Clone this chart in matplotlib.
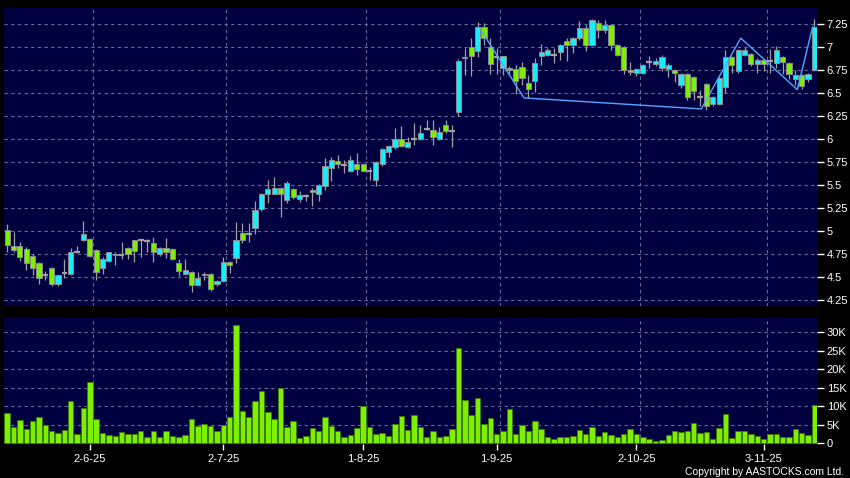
import matplotlib
matplotlib.use("Agg")
import matplotlib.pyplot as plt
import numpy as np

# daily OHLC (one entry per trading day)
opens = [5.01, 4.84, 4.84, 4.81, 4.73, 4.65, 4.53, 4.60, 4.43, 4.55,
         4.54, 4.78, 4.90, 4.92, 4.80, 4.60, 4.68, 4.74, 4.74, 4.82,
         4.90, 4.90, 4.89, 4.87, 4.75, 4.82, 4.81, 4.66, 4.54, 4.56,
         4.42, 4.53, 4.54, 4.43, 4.46, 4.67, 4.71, 4.98, 4.97, 5.04,
         5.24, 5.41, 5.41, 5.47, 5.34, 5.46, 5.35, 5.38, 5.43, 5.41,
         5.49, 5.69, 5.76, 5.72, 5.66, 5.73, 5.73, 5.66, 5.56, 5.73,
         5.86, 5.92, 6.00, 5.92, 6.00, 6.00, 6.11, 6.10, 6.00, 6.16,
         6.09, 6.30, 6.88, 7.00, 6.96, 7.22, 7.00, 6.89, 6.77, 6.75,
         6.76, 6.79, 6.61, 6.63, 6.90, 6.92, 6.92, 6.95, 7.07, 7.02,
         7.10, 7.21, 7.03, 7.26, 7.19, 7.24, 7.03, 7.00, 6.75, 6.72,
         6.72, 6.84, 6.82, 6.77, 6.76, 6.75, 6.59, 6.71, 6.68, 6.46,
         6.60, 6.38, 6.38, 6.57, 6.89, 6.74, 6.92, 6.93, 6.82, 6.86,
         6.85, 6.83, 6.89, 6.83, 6.66, 6.70, 6.66, 6.75]
highs = [5.08, 4.99, 4.88, 4.83, 4.75, 4.67, 4.57, 4.61, 4.53, 4.70,
         4.82, 4.84, 5.11, 4.93, 4.81, 4.72, 4.78, 4.78, 4.88, 4.83,
         4.91, 4.91, 4.92, 4.94, 4.83, 4.93, 4.82, 4.70, 4.70, 4.57,
         4.56, 4.56, 4.55, 4.47, 4.72, 4.68, 5.10, 5.09, 5.09, 5.33,
         5.42, 5.56, 5.59, 5.48, 5.55, 5.47, 5.44, 5.41, 5.47, 5.51,
         5.80, 5.81, 5.83, 5.77, 5.82, 5.85, 5.74, 5.70, 5.76, 5.91,
         5.94, 6.12, 6.14, 6.02, 6.18, 6.16, 6.21, 6.21, 6.13, 6.21,
         6.16, 6.87, 6.99, 7.10, 7.27, 7.26, 7.10, 6.99, 6.91, 6.80,
         6.81, 6.84, 6.70, 6.88, 7.04, 6.99, 6.99, 7.04, 7.10, 7.11,
         7.29, 7.24, 7.31, 7.30, 7.30, 7.25, 7.04, 7.01, 6.84, 6.77,
         6.82, 6.90, 6.88, 6.92, 6.83, 6.76, 6.72, 6.72, 6.69, 6.54,
         6.61, 6.47, 6.68, 6.97, 6.90, 6.98, 7.00, 6.94, 6.88, 6.87,
         6.98, 7.01, 6.90, 6.84, 6.75, 6.71, 6.72, 7.31]
lows = [4.78, 4.78, 4.68, 4.58, 4.52, 4.43, 4.47, 4.40, 4.41, 4.49,
        4.52, 4.76, 4.89, 4.72, 4.47, 4.54, 4.67, 4.63, 4.70, 4.70,
        4.67, 4.72, 4.78, 4.67, 4.73, 4.71, 4.69, 4.51, 4.52, 4.34,
        4.41, 4.47, 4.35, 4.41, 4.45, 4.55, 4.66, 4.87, 4.88, 4.97,
        5.22, 5.31, 5.40, 5.16, 5.31, 5.35, 5.32, 5.33, 5.28, 5.33,
        5.45, 5.55, 5.69, 5.63, 5.64, 5.61, 5.65, 5.56, 5.49, 5.71,
        5.81, 5.89, 5.92, 5.91, 5.94, 5.99, 6.10, 5.94, 5.99, 6.07,
        5.92, 6.25, 6.70, 6.69, 6.89, 7.03, 6.71, 6.71, 6.70, 6.71,
        6.49, 6.59, 6.45, 6.51, 6.81, 6.90, 6.83, 6.86, 6.85, 6.94,
        7.08, 6.96, 7.02, 7.10, 7.15, 6.97, 6.90, 6.71, 6.70, 6.69,
        6.71, 6.77, 6.80, 6.74, 6.68, 6.62, 6.56, 6.43, 6.43, 6.36,
        6.32, 6.36, 6.37, 6.50, 6.72, 6.72, 6.90, 6.80, 6.72, 6.74,
        6.72, 6.77, 6.71, 6.65, 6.59, 6.55, 6.62, 6.74]
closes = [4.85, 4.80, 4.72, 4.66, 4.60, 4.49, 4.53, 4.43, 4.53, 4.55,
          4.78, 4.78, 4.97, 4.73, 4.56, 4.70, 4.77, 4.75, 4.74, 4.75,
          4.79, 4.90, 4.89, 4.78, 4.82, 4.78, 4.70, 4.57, 4.58, 4.42,
          4.49, 4.54, 4.37, 4.46, 4.67, 4.63, 4.91, 4.90, 4.97, 5.23,
          5.40, 5.46, 5.47, 5.40, 5.52, 5.37, 5.39, 5.38, 5.45, 5.50,
          5.71, 5.77, 5.73, 5.72, 5.78, 5.68, 5.66, 5.66, 5.75, 5.89,
          5.93, 6.00, 5.93, 5.97, 6.00, 6.07, 6.11, 6.03, 6.08, 6.09,
          6.09, 6.85, 6.89, 6.90, 7.22, 7.10, 6.82, 6.89, 6.90, 6.78,
          6.63, 6.67, 6.55, 6.83, 6.95, 6.97, 6.92, 7.03, 7.02, 7.10,
          7.21, 7.03, 7.30, 7.19, 7.24, 7.03, 6.92, 6.75, 6.73, 6.76,
          6.81, 6.84, 6.85, 6.89, 6.81, 6.72, 6.71, 6.46, 6.53, 6.46,
          6.36, 6.46, 6.67, 6.89, 6.81, 6.97, 6.97, 6.82, 6.86, 6.82,
          6.85, 6.97, 6.84, 6.71, 6.70, 6.58, 6.71, 7.22]

# volume in thousands of shares
volume_k = [8.3, 4.3, 6.3, 3.8, 6.0, 7.0, 5.0, 3.2, 2.9, 3.6,
            11.4, 2.5, 9.5, 16.5, 6.7, 2.7, 2.2, 2.1, 3.1, 2.5,
            2.5, 3.2, 1.6, 3.4, 1.7, 3.3, 2.0, 1.8, 2.3, 6.6,
            4.7, 5.1, 4.8, 3.3, 5.0, 7.2, 31.9, 8.6, 7.0, 11.4,
            14.1, 8.5, 6.6, 15.0, 4.5, 5.9, 1.5, 2.0, 4.1, 3.2,
            7.0, 4.7, 3.4, 1.7, 2.2, 4.0, 10.1, 4.5, 2.4, 2.9,
            2.0, 5.1, 7.4, 3.6, 7.6, 4.4, 1.8, 3.4, 1.7, 2.1,
            3.9, 25.7, 11.7, 7.7, 12.2, 5.1, 6.8, 2.6, 3.2, 9.3,
            2.5, 5.0, 3.4, 5.9, 3.9, 1.7, 1.1, 1.7, 1.7, 2.0,
            3.6, 2.5, 4.4, 2.0, 3.1, 2.3, 1.8, 2.4, 3.9, 2.6,
            1.7, 1.1, 0.6, 0.9, 2.3, 3.3, 3.1, 3.4, 5.4, 2.8,
            3.1, 1.2, 4.1, 7.8, 1.4, 3.4, 3.4, 2.6, 2.1, 1.1,
            2.4, 2.4, 1.8, 1.8, 3.8, 2.9, 2.3, 10.4]

# first trading day of each month (bar index) and its label
month_idx = [13, 34, 56, 77, 99, 119]
month_labels = ["2-6-25", "2-7-25", "1-8-25", "1-9-25", "2-10-25", "3-11-25"]

# pattern line drawn on the chart (bar index, price)
pattern_x = [74.6, 81.3, 109.2, 115.4, 124.3, 126.7]
pattern_y = [7.18, 6.45, 6.33, 7.10, 6.54, 7.22]

price_ticks = [4.25, 4.5, 4.75, 5, 5.25, 5.5, 5.75, 6, 6.25, 6.5, 6.75, 7, 7.25]
vol_ticks = [0, 5, 10, 15, 20, 25, 30]

BG = "#000040"
GRID = "#6a6a9c"
CYAN = "#18ecff"
GREEN = "#7cf000"
WICK = "#a0a0a0"
EDGE = "#8c8c8c"
FONT = "Liberation Sans"

o = np.array(opens)
h = np.array(highs)
l = np.array(lows)
c = np.array(closes)
x = np.arange(len(o))
up = c > o + 1e-9
down = c < o - 1e-9
flat = ~(up | down)

fig = plt.figure(figsize=(8.5, 4.78), dpi=100, facecolor="black")
ax = fig.add_axes([4 / 850, 1 - 306 / 478, 813 / 850, 298 / 478])
axv = fig.add_axes([4 / 850, 1 - 444 / 478, 813 / 850, 126 / 478], sharex=ax)

for a in (ax, axv):
    a.set_facecolor(BG)
    for s in a.spines.values():
        s.set_visible(False)
    for m in month_idx:
        a.axvline(m + 0.5, color=GRID, lw=0.8, ls=(0, (3, 3)), zorder=1)

# price panel
for p in price_ticks:
    ax.axhline(p, color=GRID, lw=0.8, ls=(0, (3, 3)), zorder=1)
ax.vlines(x, l, h, color=WICK, lw=0.9, zorder=2)
ax.bar(x[up], (c - o)[up], bottom=o[up], width=0.82, color=CYAN,
       edgecolor=EDGE, linewidth=0.7, zorder=3)
ax.bar(x[down], (o - c)[down], bottom=c[down], width=0.82, color=GREEN,
       edgecolor=EDGE, linewidth=0.7, zorder=3)
ax.hlines(c[flat], x[flat] - 0.45, x[flat] + 0.45, color=WICK, lw=1.6, zorder=3)
ax.plot(pattern_x, pattern_y, color="#52a8ff", lw=1.0, zorder=4)

ax.set_xlim(-0.5, 127.4)
ax.set_ylim(4.188, 7.427)
ax.yaxis.tick_right()
ax.set_yticks(price_ticks)
ax.set_yticklabels(["%g" % p for p in price_ticks])
ax.tick_params(axis="y", colors="white", length=5, width=1, pad=2, labelsize=8)
ax.tick_params(axis="x", length=0, labelbottom=False)

# volume panel
for v in vol_ticks[1:]:
    axv.axhline(v, color=GRID, lw=0.8, ls=(0, (3, 3)), zorder=1)
axv.bar(x, volume_k, width=0.86, color=GREEN, edgecolor="#3c7a00",
        linewidth=0.6, zorder=3)
axv.set_ylim(-0.2, 33.9)
axv.yaxis.tick_right()
axv.set_yticks(vol_ticks)
axv.set_yticklabels([("%dK" % v) if v else "0" for v in vol_ticks])
axv.tick_params(axis="y", colors="white", length=5, width=1, pad=2, labelsize=8)
axv.set_xticks(month_idx)
axv.set_xticklabels(month_labels)
axv.tick_params(axis="x", colors="white", length=4, width=1, pad=3, labelsize=8)

for t in ax.get_yticklabels() + axv.get_yticklabels() + axv.get_xticklabels():
    t.set_fontfamily(FONT)

fig.text(844 / 850, 1 - 472 / 478, "Copyright by AASTOCKS.com Ltd.", color="white",
         fontsize=7.5, family=FONT, ha="right", va="center")

fig.savefig("out.png", dpi=100, facecolor="black")
